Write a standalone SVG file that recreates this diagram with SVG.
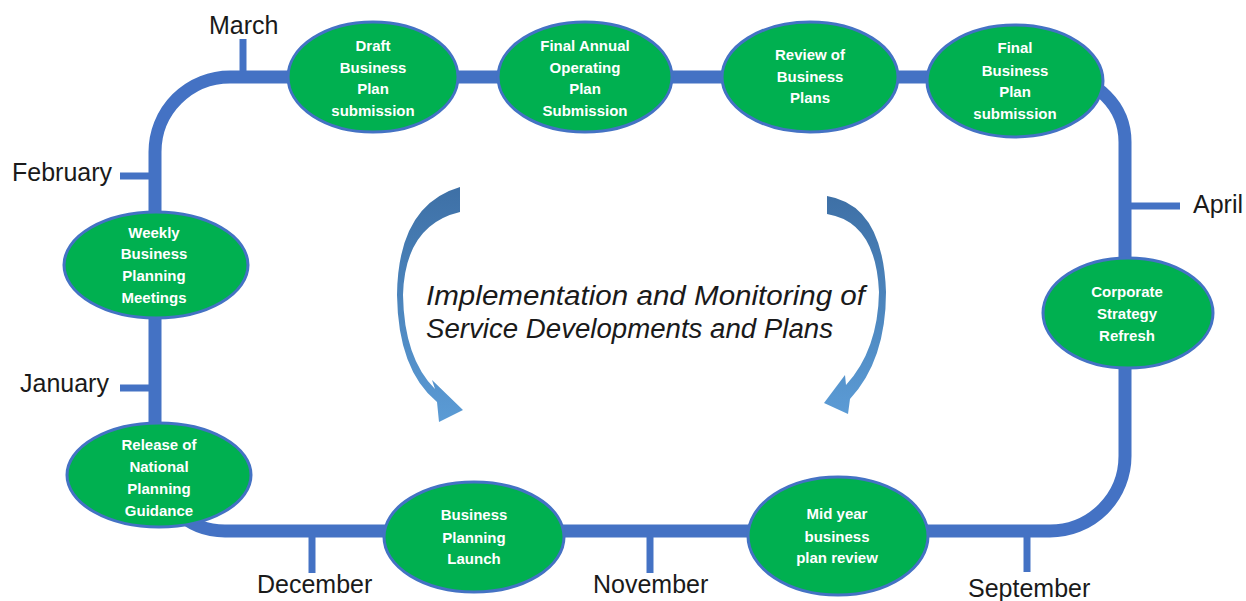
<svg xmlns="http://www.w3.org/2000/svg" width="1246" height="601" viewBox="0 0 1246 601">
  <defs>
    <style>
      .track { fill: none; stroke: #4472C4; stroke-width: 13; }
      .tick { fill: none; stroke: #4472C4; stroke-width: 7; }
      .node ellipse { fill: #00B050; stroke: #4472C4; stroke-width: 3; }
      .node text { font-family: "Liberation Sans", Arial, sans-serif; font-weight: bold; font-size: 15px; fill: #FFFFFF; text-anchor: middle; }
      .month { font-family: "Liberation Sans", Arial, sans-serif; font-size: 25px; fill: #1A1A1A; }
      .centre { font-family: "Liberation Sans", Arial, sans-serif; font-style: italic; font-size: 27px; fill: #1A1A1A; }
    </style>
    <linearGradient id="arrowFill" x1="0" y1="0" x2="0" y2="1">
      <stop offset="0" stop-color="#3E70A6"/>
      <stop offset="1" stop-color="#5B9BD5"/>
    </linearGradient>
  </defs>

  <rect width="1246" height="601" fill="#FFFFFF"/>

  <!-- timeline loop and month ticks -->
  <g id="connectors">
    <path class="track" d="M 230 77 H 1060 A 65 65 0 0 1 1125 142 V 456 A 75 75 0 0 1 1050 531 H 225 A 70 70 0 0 1 155 461 V 152 A 75 75 0 0 1 230 77 Z"/>
    <line class="tick" x1="243" y1="39" x2="243" y2="77"/>
    <line class="tick" x1="120" y1="176" x2="155" y2="176"/>
    <line class="tick" x1="120" y1="388" x2="155" y2="388"/>
    <line class="tick" x1="1125" y1="206" x2="1180" y2="206"/>
    <line class="tick" x1="312" y1="531" x2="312" y2="573"/>
    <line class="tick" x1="650" y1="531" x2="650" y2="573"/>
    <line class="tick" x1="1027" y1="531" x2="1027" y2="572"/>
  </g>

  <!-- month labels -->
  <g id="months">
    <text class="month" x="209" y="34">March</text>
    <text class="month" x="12" y="181">February</text>
    <text class="month" x="20" y="392">January</text>
    <text class="month" x="1193" y="213">April</text>
    <text class="month" x="968" y="597">September</text>
    <text class="month" x="257" y="593">December</text>
    <text class="month" x="593" y="593">November</text>
  </g>

  <!-- milestones -->
  <g id="draft-business-plan" class="node">
    <ellipse cx="373" cy="77" rx="85" ry="55"/>
    <text x="373" y="51">Draft</text>
    <text x="373" y="73">Business</text>
    <text x="373" y="94">Plan</text>
    <text x="373" y="116">submission</text>
  </g>
  <g id="final-annual-operating-plan" class="node">
    <ellipse cx="585" cy="77" rx="87" ry="55"/>
    <text x="585" y="51">Final Annual</text>
    <text x="585" y="73">Operating</text>
    <text x="585" y="94">Plan</text>
    <text x="585" y="116">Submission</text>
  </g>
  <g id="review-business-plans" class="node">
    <ellipse cx="810" cy="77" rx="88" ry="55"/>
    <text x="810" y="60">Review of</text>
    <text x="810" y="82">Business</text>
    <text x="810" y="103">Plans</text>
  </g>
  <g id="final-business-plan" class="node">
    <ellipse cx="1015" cy="81" rx="88" ry="56"/>
    <text x="1015" y="53">Final</text>
    <text x="1015" y="76">Business</text>
    <text x="1015" y="97">Plan</text>
    <text x="1015" y="119">submission</text>
  </g>
  <g id="corporate-strategy" class="node">
    <ellipse cx="1128" cy="313" rx="85" ry="55"/>
    <text x="1127" y="297">Corporate</text>
    <text x="1127" y="319">Strategy</text>
    <text x="1127" y="341">Refresh</text>
  </g>
  <g id="mid-year-review" class="node">
    <ellipse cx="838" cy="536" rx="90" ry="59"/>
    <text x="837" y="519">Mid year</text>
    <text x="837" y="542">business</text>
    <text x="837" y="563">plan review</text>
  </g>
  <g id="planning-launch" class="node">
    <ellipse cx="474" cy="537" rx="90" ry="55"/>
    <text x="474" y="520">Business</text>
    <text x="474" y="543">Planning</text>
    <text x="474" y="564">Launch</text>
  </g>
  <g id="national-guidance" class="node">
    <ellipse cx="159" cy="475" rx="92" ry="52"/>
    <text x="159" y="450">Release of</text>
    <text x="159" y="472">National</text>
    <text x="159" y="494">Planning</text>
    <text x="159" y="516">Guidance</text>
  </g>
  <g id="weekly-meetings" class="node">
    <ellipse cx="156" cy="265" rx="92" ry="53"/>
    <text x="154" y="238">Weekly</text>
    <text x="154" y="259">Business</text>
    <text x="154" y="281">Planning</text>
    <text x="154" y="303">Meetings</text>
  </g>

  <!-- central cycle: two curved arrows around the caption -->
  <g id="cycle">
    <path fill="url(#arrowFill)" d="M 460 187 Q 398 205 397 295 Q 398 370 437 402 L 439 422 L 463 410 L 432 380 L 435 389 Q 404 358 403 295 Q 405 225 460 212 Z"/>
    <path fill="url(#arrowFill)" d="M 827 196 Q 883 205 886 292 Q 886 360 850 399 L 848 414 L 824 403 L 845 375 L 846 385 Q 878 350 879 292 Q 876 222 827 214 Z"/>
    <text class="centre" x="426" y="305" textLength="439" lengthAdjust="spacingAndGlyphs">Implementation and Monitoring of</text>
    <text class="centre" x="426" y="338" textLength="407" lengthAdjust="spacingAndGlyphs">Service Developments and Plans</text>
  </g>
</svg>
